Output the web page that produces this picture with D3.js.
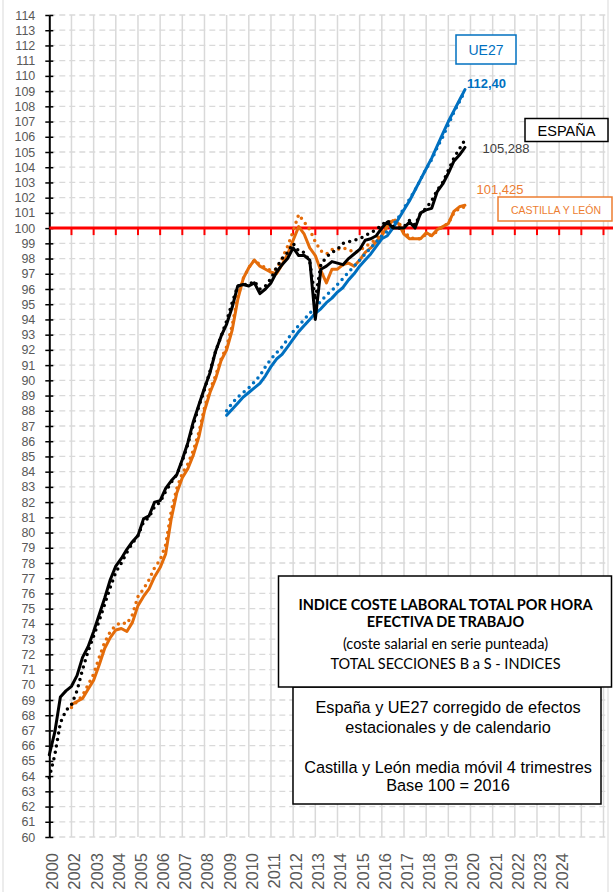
<!DOCTYPE html>
<html>
<head>
<meta charset="utf-8">
<script src="https://cdn.jsdelivr.net/npm/d3@7"></script>
<style>
  body { margin: 0; background: #fff; }
  svg { display: block; font-family: "Liberation Sans", Arial, sans-serif; }
</style>
</head>
<body>
<svg id="chart" width="613" height="892"></svg>
<script>
// etiquetas del eje x (una cada 4 trimestres)
const yearLabels = ["2000","2002","2003","2004","2005","2006","2007","2008","2009","2010","2011","2012",
  "2013","2014","2015","2016","2017","2018","2019","2020","2021","2022","2023","2024"];

// trimestre en el que empieza cada serie
const espanaInicio = 0;
const cylInicio = 4;
const ue27Inicio = 32;

// España - coste laboral total (linea) y coste salarial (punteada)
const espanaCoste = [65.4,66.9,69.2,69.6,69.9,70.6,71.8,72.5,73.5,74.6,
  75.7,76.9,77.8,78.3,78.9,79.4,79.8,80.9,81.1,82.0,
  82.1,82.9,83.4,83.8,84.8,85.9,87.3,88.4,89.5,90.5,
  91.9,92.9,93.7,94.8,96.2,96.3,96.2,96.4,95.7,96.0,
  96.4,97.1,97.6,98.0,98.7,98.2,98.2,97.9,94.0,97.3,
  97.5,97.8,97.7,97.6,98.0,98.3,98.6,99.2,99.3,99.5,
  100.0,100.4,100.0,100.0,100.0,100.4,100.0,101.0,101.2,101.3,
  102.4,102.9,103.6,104.4,104.8,105.3];
const espanaSalarial = [63.9,65.4,67.5,68.3,68.7,69.6,71.0,72.2,73.2,74.2,
  75.3,76.4,77.4,78.0,78.7,79.3,79.8,80.7,81.0,81.7,
  82.0,82.7,83.3,83.8,84.7,85.8,87.1,88.3,89.4,90.6,
  91.9,92.9,93.9,95.1,96.2,96.3,96.3,96.5,96.0,96.2,
  96.7,97.4,98.0,98.4,99.0,98.5,98.4,97.8,95.3,97.6,
  98.1,98.4,98.6,99.0,99.1,99.2,99.3,99.5,99.7,99.9,
  100.2,100.5,100.1,100.0,100.1,100.5,100.2,101.0,101.3,101.8,
  102.5,103.0,103.8,104.6,105.2,105.8];

// UE27
const ue27Coste = [87.7,88.1,88.5,88.9,89.2,89.5,89.8,90.3,90.9,91.4,
  91.7,92.2,92.7,93.2,93.6,94.0,94.4,94.7,95.1,95.4,
  95.8,96.1,96.6,97.0,97.5,97.9,98.3,98.8,99.3,99.5,
  100.0,100.6,101.2,101.8,102.5,103.2,103.9,104.6,105.4,106.2,
  107.0,107.7,108.4,109.1];
const ue27Salarial = [88.0,88.5,88.9,89.2,89.5,89.9,90.3,90.9,91.4,91.8,
  92.2,92.7,93.2,93.6,94.0,94.4,94.8,95.2,95.6,95.9,
  96.3,96.7,97.1,97.5,97.9,98.3,98.7,99.1,99.5,99.8,
  100.2,100.7,101.3,101.9,102.5,103.2,103.9,104.5,105.3,106.0,
  106.8,107.6,108.3,109.0];

// Castilla y León (media movil 4 trimestres)
const cylCoste = [68.7,68.9,69.1,69.7,70.3,71.3,72.4,73.1,73.6,73.7,
  73.5,74.1,75.2,75.8,76.3,77.1,77.7,78.6,80.9,82.6,
  83.6,84.2,85.1,86.3,88.0,89.2,90.1,91.3,92.0,93.3,
  95.3,96.7,97.4,97.9,97.5,97.3,97.1,97.0,97.6,98.3,
  99.2,100.1,99.6,98.7,98.2,97.2,96.4,97.3,97.3,97.6,
  97.7,97.5,97.9,98.4,98.7,99.1,99.5,100.1,100.5,100.3,
  99.6,99.3,99.3,99.3,99.7,99.5,99.9,100.1,100.3,101.1,
  101.4,101.5];
const cylSalarial = [68.5,68.9,69.3,70.0,70.7,71.8,72.8,73.5,73.9,74.1,
  74.0,74.6,75.8,76.3,76.9,77.7,78.2,79.2,81.4,82.9,
  83.9,84.5,85.4,86.6,88.2,89.4,90.3,91.4,92.2,93.6,
  95.5,96.7,97.4,97.9,97.6,97.4,97.2,97.3,98.0,98.8,
  99.8,100.9,100.4,99.9,99.1,98.5,98.3,98.6,98.6,98.7,
  98.6,98.4,98.5,98.8,99.0,99.3,99.7,100.2,100.6,100.4,
  99.8,99.4,99.3,99.3,99.6,99.5,99.8,100.1,100.3,101.0,
  101.3,101.4];

const yTicks = d3.range(60, 115);
const base100 = 100;

const colorBlue = "#0070C0";
const colorOrange = "#E46C0A";
const colorOrangeLabel = "#ED7D31";

const svg = d3.select("#chart");

const x = d3.scaleLinear().domain([0, 100]).range([49.3, 603.5]);
const y = d3.scaleLinear().domain([60, 114]).range([837, 15]);

// borde del grafico
svg.append("rect")
  .attr("x", 3).attr("y", -5).attr("width", 605).attr("height", 905)
  .attr("fill", "none").attr("stroke", "#d9d9d9").attr("stroke-width", 1);

// rejilla horizontal punteada
svg.append("g")
  .selectAll("line")
  .data(yTicks)
  .join("line")
  .attr("x1", x(0)).attr("x2", 609)
  .attr("y1", d => y(d)).attr("y2", d => y(d))
  .attr("stroke", "#d9d9d9").attr("stroke-width", 1.3)
  .attr("stroke-dasharray", "6,4");

// rejilla vertical
const gridQ = d3.range(1, 26).map(k => k * 4);
svg.append("g")
  .selectAll("line")
  .data(gridQ)
  .join("line")
  .attr("x1", d => x(d)).attr("x2", d => x(d))
  .attr("y1", y(114)).attr("y2", y(60))
  .attr("stroke", "#d9d9d9").attr("stroke-width", 1.5);

// eje y con marcas cruzadas
const yAxis = svg.append("g")
  .attr("transform", `translate(${x(0)},0)`)
  .call(d3.axisLeft(y).tickValues(yTicks).tickSize(4).tickSizeOuter(0).tickPadding(10).tickFormat(d3.format("d")));
yAxis.select(".domain").attr("stroke", "#000").attr("stroke-width", 2);
yAxis.selectAll(".tick line").attr("stroke", "#000").attr("stroke-width", 1.5);
yAxis.selectAll(".tick text")
  .attr("fill", "#595959")
  .style("font-size", "12.5px")
  .style("font-family", "'Liberation Sans', Arial, sans-serif");
svg.append("g")
  .attr("transform", `translate(${x(0)},0)`)
  .call(d3.axisRight(y).tickValues(yTicks).tickSize(4).tickFormat(""))
  .call(g => g.select(".domain").remove())
  .selectAll(".tick line").attr("stroke", "#000").attr("stroke-width", 1.5);

// etiquetas del eje x (giradas)
const xAxis = svg.append("g")
  .attr("transform", `translate(2.5,${y(60)})`)
  .call(d3.axisBottom(x)
    .tickValues(yearLabels.map((d, i) => i * 4))
    .tickFormat((d, i) => yearLabels[i])
    .tickSize(0));
xAxis.select(".domain").remove();
xAxis.selectAll(".tick text")
  .attr("transform", "translate(0,16) rotate(-90)")
  .attr("text-anchor", "end")
  .attr("dy", "0.36em")
  .attr("x", 0).attr("y", 0)
  .attr("fill", "#595959")
  .style("font-size", "16.5px")
  .style("font-family", "'Liberation Sans', Arial, sans-serif");

// linea base 100 en rojo
svg.append("line")
  .attr("x1", x(0)).attr("x2", 613)
  .attr("y1", y(base100)).attr("y2", y(base100))
  .attr("stroke", "#ff0000").attr("stroke-width", 3);
svg.append("g")
  .selectAll("line")
  .data(gridQ)
  .join("line")
  .attr("x1", d => x(d)).attr("x2", d => x(d))
  .attr("y1", y(base100)).attr("y2", y(base100) + 7)
  .attr("stroke", "#ff0000").attr("stroke-width", 2);

function drawSeries(values, start, color, dotted) {
  const line = d3.line()
    .x((d, i) => x(start + i))
    .y(d => y(d));
  svg.append("path")
    .datum(values)
    .attr("d", line)
    .attr("fill", "none")
    .attr("stroke", color)
    .attr("stroke-width", dotted ? 3.5 : 3)
    .attr("stroke-linejoin", "round")
    .attr("stroke-linecap", "round")
    .attr("stroke-dasharray", dotted ? "0,6.5" : null);
}

drawSeries(cylSalarial, cylInicio, colorOrange, true);
drawSeries(cylCoste, cylInicio, colorOrange, false);
drawSeries(ue27Salarial, ue27Inicio, colorBlue, true);
drawSeries(ue27Coste, ue27Inicio, colorBlue, false);
drawSeries(espanaSalarial, espanaInicio, "#000", true);
drawSeries(espanaCoste, espanaInicio, "#000", false);

// cajas de leyenda
function box(x0, y0, w, h, stroke) {
  svg.append("rect")
    .attr("x", x0).attr("y", y0).attr("width", w).attr("height", h)
    .attr("fill", "#fff").attr("stroke", stroke).attr("stroke-width", 1.5);
}
function label(txt, cx, cy, size, color, weight, anchor, family) {
  svg.append("text")
    .attr("x", cx).attr("y", cy)
    .attr("text-anchor", anchor || "middle")
    .attr("dominant-baseline", "central")
    .attr("fill", color)
    .style("font-size", size + "px")
    .style("font-weight", weight || "normal")
    .style("font-family", family || "'Liberation Sans', Arial, sans-serif")
    .text(txt);
}

box(456, 35, 60, 29, colorBlue);
label("UE27", 486, 50, 14, colorBlue);
label("112,40", 467, 83, 13, colorBlue, "bold", "start");

box(525, 118.5, 83, 23, "#000");
label("ESPAÑA", 566.5, 130.5, 14.5, "#000");
label("105,288", 482.5, 148, 13, "#404040", "normal", "start");

label("101,425", 476.5, 189.5, 13, colorOrangeLabel, "normal", "start");
box(498, 197, 114, 24, colorOrangeLabel);
label("CASTILLA Y LEÓN", 556, 209.5, 10.5, colorOrangeLabel);

// recuadros de titulo
box(293, 687, 308, 117, "#000");
box(278.5, 576, 333, 111, "#000");
const titleFont = "Lato, 'Open Sans', sans-serif";
label("INDICE COSTE LABORAL TOTAL POR HORA", 445.5, 604, 14.5, "#000", "bold", "middle", titleFont);
label("EFECTIVA DE TRABAJO", 445.5, 621.5, 14.5, "#000", "bold", "middle", titleFont);
label("(coste salarial en serie punteada)", 445.5, 643.5, 14.5, "#000", "normal", "middle", titleFont);
label("TOTAL SECCIONES B a S - INDICES", 445.5, 663.5, 14.5, "#000", "normal", "middle", titleFont);

label("España y UE27 corregido de efectos", 448, 707, 16.3, "#000");
label("estacionales y de calendario", 448, 726.5, 16.3, "#000");
label("Castilla y León media móvil 4 trimestres", 448, 766.5, 16.3, "#000");
label("Base 100 = 2016", 448, 785, 16.3, "#000");
</script>
</body>
</html>
